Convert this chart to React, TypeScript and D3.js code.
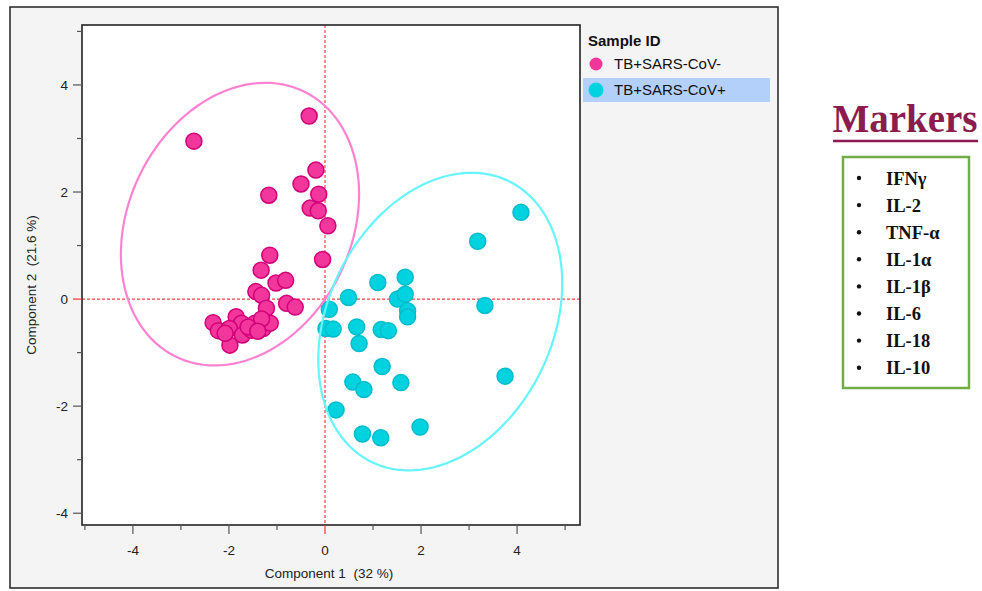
import React from "react";
import * as d3 from "d3";

// ---- data ----
const groups = ["TB+SARS-CoV-", "TB+SARS-CoV+"];

const negX = [-2.73, -0.33, -0.19, -0.50, -1.17, -0.13, -0.31, -0.14, 0.06, -1.15, -0.05, -1.33, -1.02, -0.82, -1.44, -1.32, -0.80, -0.62, -1.22, -2.33, -2.22, -1.85, -1.74, -1.99, -1.98, -1.72, -1.53, -1.46, -1.29, -1.14, -1.32, -2.08, -1.60, -1.40];
const negY = [2.95, 3.42, 2.41, 2.15, 1.94, 1.96, 1.70, 1.65, 1.37, 0.82, 0.74, 0.54, 0.30, 0.35, 0.14, 0.07, -0.08, -0.15, -0.17, -0.44, -0.59, -0.33, -0.45, -0.55, -0.86, -0.67, -0.58, -0.45, -0.55, -0.45, -0.37, -0.64, -0.52, -0.60];

const posX = [1.10, 1.67, 0.49, 1.51, 1.67, 1.72, 1.72, 0.09, 0.02, 0.17, 0.66, 0.71, 1.17, 1.32, 1.19, 0.58, 0.81, 1.58, 0.23, 0.78, 1.16, 1.98, 4.08, 3.18, 3.33, 3.75];
const posY = [0.31, 0.41, 0.03, 0.00, 0.09, -0.22, -0.33, -0.19, -0.55, -0.56, -0.52, -0.83, -0.57, -0.59, -1.26, -1.55, -1.69, -1.56, -2.07, -2.52, -2.59, -2.39, 1.62, 1.08, -0.12, -1.44];

// ellipse parameters (data units): centre, half-extent in x and y, correlation
const ellCx = [-1.77, 2.40];
const ellCy = [1.40, -0.42];
const ellHx = [2.48, 2.54];
const ellHy = [2.64, 2.78];
const ellRho = [0.213, 0.257];

const xTicks = [-5, -4, -3, -2, -1, 0, 1, 2, 3, 4, 5];
const yTicks = [-4, -3, -2, -1, 0, 1, 2, 3, 4, 5];
const markers = ["IFNγ", "IL-2", "TNF-α", "IL-1α", "IL-1β", "IL-6", "IL-18", "IL-10"];

const fillCol = ["#f2369b", "#00d2e0"];
const strokeCol = ["#d1007a", "#00bccb"];
const ellCol = ["#ff82d2", "#66f4ff"];

export default function App() {
  const W = 982, H = 591;
  const L = 82, T = 25, R = 580, B = 525;
  const x = d3.scaleLinear().domain([-5.06, 5.31]).range([L, R]);
  const y = d3.scaleLinear().domain([-4.22, 5.12]).range([B, T]);
  const sans = "'Liberation Sans', Arial, Helvetica, sans-serif";
  const serif = "'Liberation Serif', 'Times New Roman', serif";

  const ellipsePath = (i: number) => {
    const a = ellHx[i];
    const c = ellHy[i] * ellRho[i];
    const dd = ellHy[i] * Math.sqrt(1 - ellRho[i] * ellRho[i]);
    const pts: [number, number][] = d3.range(0, 361, 3).map((deg) => {
      const t = (deg * Math.PI) / 180;
      return [x(ellCx[i] + a * Math.cos(t)), y(ellCy[i] + c * Math.cos(t) + dd * Math.sin(t))];
    });
    return d3.line().curve(d3.curveLinearClosed)(pts) || "";
  };

  const series = [
    negX.map((v, i) => [v, negY[i]]),
    posX.map((v, i) => [v, posY[i]]),
  ];

  return (
    <svg width={W} height={H} style={{ position: "absolute", left: 0, top: 0, background: "#fff" }}>
      <rect x={10} y={7} width={768} height={581} fill="#f4f4f4" stroke="#222" strokeWidth={1.5} />
      <rect x={L} y={T} width={R - L} height={B - T} fill="#fff" />
      <clipPath id="plotclip">
        <rect x={L} y={T} width={R - L} height={B - T} />
      </clipPath>
      <g clipPath="url(#plotclip)">
        <line x1={x(0)} x2={x(0)} y1={T} y2={B} stroke="#ff4040" strokeWidth={1.2} strokeDasharray="3,2" />
        <line x1={L} x2={R} y1={y(0)} y2={y(0)} stroke="#ff4040" strokeWidth={1.2} strokeDasharray="3,2" />
        {series.map((s, gi) =>
          s.map((p, i) => (
            <circle key={gi + "-" + i} cx={x(p[0])} cy={y(p[1])} r={8} fill={fillCol[gi]} stroke={strokeCol[gi]} strokeWidth={1.5} />
          ))
        )}
        {ellCx.map((_, i) => (
          <path key={"e" + i} d={ellipsePath(i)} fill="none" stroke={ellCol[i]} strokeWidth={2.2} />
        ))}
      </g>
      <rect x={L} y={T} width={R - L} height={B - T} fill="none" stroke="#222" strokeWidth={1.6} />
      {/* y axis */}
      {yTicks.map((t) => {
        const major = t % 2 === 0;
        return (
          <g key={"yt" + t}>
            <line x1={L - (major ? 9 : 5)} x2={L} y1={y(t)} y2={y(t)} stroke={t === 0 ? "#ff3030" : "#555"} strokeWidth={1.2} />
            {major && t <= 4 && (
              <text x={L - 14} y={y(t)} dy="0.35em" textAnchor="end" fontFamily={sans} fontSize={13.5} fill="#222">
                {t}
              </text>
            )}
          </g>
        );
      })}
      {xTicks.map((t) => {
        const major = t % 2 === 0;
        return (
          <g key={"xt" + t}>
            <line x1={x(t)} x2={x(t)} y1={B} y2={B + (major ? 9 : 5)} stroke={t === 0 ? "#ff3030" : "#555"} strokeWidth={1.2} />
            {major && (
              <text x={x(t)} y={B + 30} textAnchor="middle" fontFamily={sans} fontSize={13.5} fill="#222">
                {t}
              </text>
            )}
          </g>
        );
      })}
      <text x={329} y={578} textAnchor="middle" fontFamily={sans} fontSize={13.5} fill="#222" style={{ whiteSpace: "pre" }}>
        {"Component 1  (32 %)"}
      </text>
      <text transform={`translate(36,${(T + B) / 2 + 10}) rotate(-90)`} textAnchor="middle" fontFamily={sans} fontSize={13.5} fill="#222" style={{ whiteSpace: "pre" }}>
        {"Component 2  (21.6 %)"}
      </text>
      {/* legend */}
      <text x={588} y={46} fontFamily={sans} fontSize={15} fontWeight="bold" fill="#111">
        Sample ID
      </text>
      <rect x={583} y={78} width={187} height={24} fill="#b3d0fa" />
      {groups.map((g, i) => (
        <g key={"lg" + i}>
          <circle cx={596} cy={64 + i * 26} r={i === 0 ? 6.5 : 7.5} fill={fillCol[i]} />
          <text x={614} y={64 + i * 26} dy="0.36em" fontFamily={sans} fontSize={15} fill="#111">
            {g}
          </text>
        </g>
      ))}
      {/* markers panel */}
      <text x={905} y={132} textAnchor="middle" fontFamily={serif} fontSize={39} fontWeight="bold" fill="#8c1b4e">
        Markers
      </text>
      <line x1={833} x2={978} y1={141} y2={141} stroke="#8c1b4e" strokeWidth={2.5} />
      <rect x={843} y={157} width={126} height={231} fill="#fff" stroke="#70ad47" strokeWidth={2.5} />
      {markers.map((m, i) => (
        <g key={"m" + i}>
          <circle cx={859} cy={178 + i * 27.1} r={2.2} fill="#111" />
          <text x={886} y={178 + i * 27.1} dy="0.36em" fontFamily={serif} fontSize={18.5} fontWeight="bold" fill="#111">
            {m}
          </text>
        </g>
      ))}
    </svg>
  );
}
